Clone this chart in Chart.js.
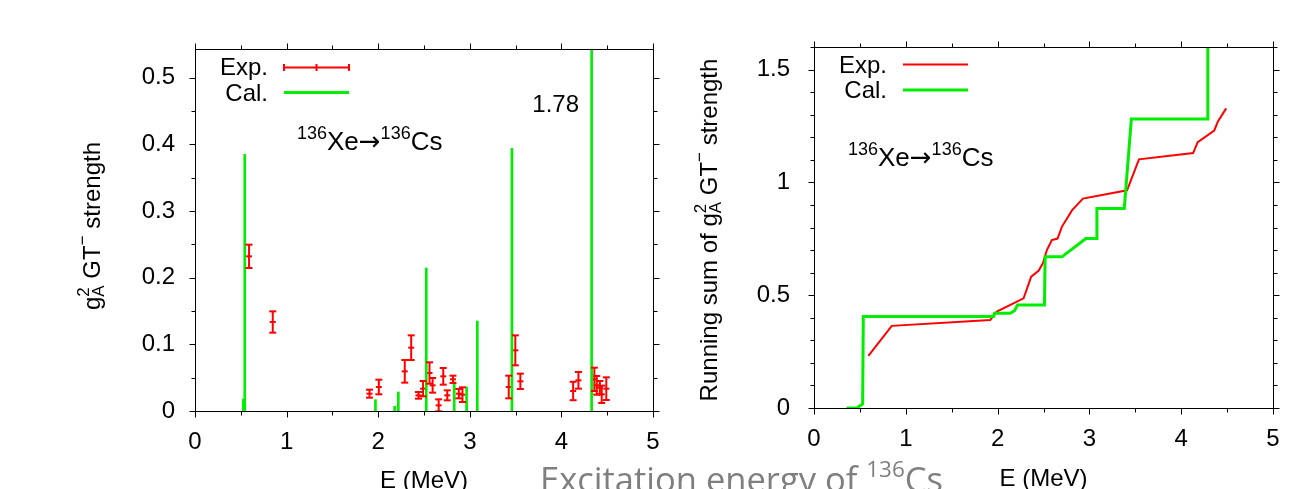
<!DOCTYPE html>
<html>
<head>
<meta charset="utf-8">
<script src="https://cdn.jsdelivr.net/npm/chart.js@4.4.1/dist/chart.umd.min.js"></script>
<style>
  html, body { margin: 0; padding: 0; background: #fff; }
  body { width: 1302px; height: 489px; position: relative; overflow: hidden; }
  canvas { position: absolute; top: 0; }
  #left { left: 0; }
  #right { left: 690px; }
  #cap { left: 0; pointer-events: none; }
</style>
</head>
<body>
<canvas id="left" width="690" height="489"></canvas>
<canvas id="right" width="612" height="489"></canvas>
<canvas id="cap" width="1302" height="489"></canvas>
<script>
const FONT = "'Liberation Sans', Arial, Helvetica, sans-serif";
const ARROW_FONT = "'DejaVu Sans', sans-serif";
const RED = '#ff0000';
const GREEN = '#00ee00';

// left panel: strength of each level (MeV, g_A^2 GT-)
const expE   = [0.590, 0.849, 1.905, 2.007, 2.29, 2.36, 2.44, 2.49, 2.56, 2.594, 2.66, 2.71, 2.754,
                2.816, 2.88, 2.92, 3.425, 3.497, 3.552, 4.128, 4.186, 4.36, 4.386, 4.42, 4.44, 4.49];
const expS   = [0.232, 0.1335, 0.026, 0.036, 0.0595, 0.095, 0.0235, 0.0335, 0.057, 0.0385, 0.0085, 0.052, 0.0235,
                0.0475, 0.026, 0.0245, 0.036, 0.091, 0.0445, 0.030, 0.046, 0.0475, 0.0385, 0.035, 0.025, 0.0335];
const expErr = [0.0175, 0.016, 0.006, 0.011, 0.017, 0.0185, 0.005, 0.0115, 0.016, 0.011, 0.009, 0.0125, 0.0075,
                0.0055, 0.007, 0.011, 0.017, 0.0225, 0.0115, 0.0138, 0.0125, 0.0175, 0.014, 0.01, 0.013, 0.017];
const calE   = [0.528, 0.543, 1.97, 2.18, 2.22, 2.525, 2.83, 2.965, 3.082, 3.46, 4.33];
const calS   = [0.018, 0.385, 0.017, 0.007, 0.0285, 0.2145, 0.044, 0.036, 0.135, 0.394, 1.78];

// right panel: running sums
const expRunE = [0.592, 0.847, 1.919, 1.992, 2.283, 2.366, 2.446, 2.493, 2.537, 2.591, 2.653,
                 2.70, 2.81, 2.93, 3.41, 3.54, 4.13, 4.18, 4.36, 4.40, 4.49];
const expRunS = [0.231, 0.364, 0.390, 0.427, 0.486, 0.582, 0.608, 0.641, 0.70, 0.744, 0.751,
                 0.803, 0.876, 0.928, 0.965, 1.102, 1.13, 1.178, 1.23, 1.27, 1.328];
const calRunE = [0.356, 0.465, 0.530, 0.537, 1.955, 1.966, 2.137, 2.184, 2.217, 2.51, 2.518,
                 2.70, 2.962, 3.082, 3.082, 3.38, 3.457, 4.283, 4.29];
const calRunS = [0, 0, 0.018, 0.405, 0.405, 0.42, 0.42, 0.431, 0.457, 0.457, 0.67,
                 0.67, 0.751, 0.751, 0.884, 0.884, 1.281, 1.281, 3.06];

// tick labels
const xTickVals = [0, 1, 2, 3, 4, 5];
const leftYTicks = [0, 0.1, 0.2, 0.3, 0.4, 0.5];
const rightYTicks = [0, 0.5, 1, 1.5];

const pts = (xs, ys) => xs.map((x, i) => ({ x: x, y: ys[i] }));

function line(ctx, x1, y1, x2, y2) {
  ctx.beginPath(); ctx.moveTo(x1, y1); ctx.lineTo(x2, y2); ctx.stroke();
}

// rich text: parts are {t, s, dy, f} or {stack: [sup, sub], s, up, down}
function partWidth(ctx, p) {
  ctx.font = p.s + 'px ' + (p.f || FONT);
  if (p.stack) return Math.max(ctx.measureText(p.stack[0]).width, ctx.measureText(p.stack[1]).width);
  return ctx.measureText(p.t).width;
}
function drawRich(ctx, parts, x, y, align) {
  const ws = parts.map(p => partWidth(ctx, p));
  const total = ws.reduce((a, b) => a + b, 0);
  let cx = align === 'center' ? x - total / 2 : (align === 'right' ? x - total : x);
  ctx.textAlign = 'left';
  ctx.textBaseline = 'alphabetic';
  parts.forEach((p, i) => {
    ctx.font = p.s + 'px ' + (p.f || FONT);
    if (p.stack) {
      ctx.fillText(p.stack[0], cx, y + p.up);
      ctx.fillText(p.stack[1], cx, y + p.down);
    } else {
      ctx.fillText(p.t, cx, y + (p.dy || 0));
    }
    cx += ws[i];
  });
}

const gtTitle = [
  { t: 'g', s: 24 },
  { stack: ['2', 'A'], s: 17, up: -11, down: 4 },
  { t: ' GT', s: 24 },
  { t: '\u2212', s: 17, dy: -12 },
  { t: ' strength', s: 24 }
];
const reaction = [
  { t: '136', s: 18, dy: -11 },
  { t: 'Xe', s: 26 },
  { t: '\u2192', s: 26, f: ARROW_FONT },
  { t: '136', s: 18, dy: -11 },
  { t: 'Cs', s: 26 }
];

const framePlugin = {
  id: 'frame',
  afterDatasetsDraw(chart, args, o) {
    const { ctx, chartArea: a, scales: { x, y } } = chart;
    ctx.save();
    ctx.strokeStyle = '#000';
    ctx.lineWidth = 1;
    const L = Math.round(a.left) + 0.5, R = Math.round(a.right) + 0.5;
    const T = Math.round(a.top) + 0.5, B = Math.round(a.bottom) + 0.5;
    ctx.strokeRect(L, T, R - L, B - T);
    for (let k = 0; k * o.xMinor <= x.max + 1e-9; k++) {
      const v = k * o.xMinor;
      const px = Math.round(x.getPixelForValue(v)) + 0.5;
      const len = Math.abs(v / o.xMajor - Math.round(v / o.xMajor)) < 1e-6 ? 6 : 4;
      line(ctx, px, B, px, B + len);
      line(ctx, px, T, px, T - len);
    }
    for (let k = 0; k * o.yMinor <= y.max + 1e-9; k++) {
      const v = k * o.yMinor;
      const py = Math.round(y.getPixelForValue(v)) + 0.5;
      const len = Math.abs(v / o.yMajor - Math.round(v / o.yMajor)) < 1e-6 ? 6 : 4;
      line(ctx, L, py, L - len, py);
      line(ctx, R, py, R + len, py);
    }
    ctx.restore();
  }
};

const errorPlugin = {
  id: 'errorBars',
  afterDatasetsDraw(chart) {
    const { ctx, chartArea: a, scales: { x, y } } = chart;
    ctx.save();
    ctx.beginPath();
    ctx.rect(a.left, a.top, a.right - a.left, a.bottom - a.top);
    ctx.clip();
    chart.data.datasets.forEach(ds => {
      if (!ds.errors) return;
      ctx.strokeStyle = ds.borderColor;
      ctx.lineWidth = 2;
      ds.data.forEach((p, i) => {
        const px = x.getPixelForValue(p.x);
        const top = y.getPixelForValue(p.y + ds.errors[i]);
        const bot = y.getPixelForValue(p.y - ds.errors[i]);
        line(ctx, px, top, px, bot);
        line(ctx, px - 3.5, top, px + 3.5, top);
        line(ctx, px - 3.5, bot, px + 3.5, bot);
      });
    });
    ctx.restore();
  }
};

const keyPlugin = {
  id: 'key',
  afterDraw(chart, args, o) {
    const ctx = chart.ctx;
    ctx.save();
    o.rows.forEach(r => {
      const ds = chart.data.datasets[r.ds];
      ctx.font = '24px ' + FONT;
      ctx.fillStyle = '#000';
      ctx.textAlign = 'right';
      ctx.textBaseline = 'alphabetic';
      ctx.fillText(ds.label, o.textX, r.base);
      ctx.strokeStyle = ds.borderColor;
      ctx.lineWidth = r.lw;
      line(ctx, o.x1, r.lineY, o.x2, r.lineY);
      if (r.caps) {
        ctx.lineWidth = 2;
        const mid = (o.x1 + o.x2) / 2;
        [o.x1, mid, o.x2].forEach(cx => line(ctx, cx, r.lineY - 3.5, cx, r.lineY + 3.5));
      }
    });
    ctx.restore();
  }
};

const notesPlugin = {
  id: 'notes',
  afterDraw(chart, args, o) {
    const ctx = chart.ctx;
    ctx.save();
    ctx.fillStyle = '#000';
    o.items.forEach(it => {
      ctx.save();
      ctx.translate(it.x, it.y);
      if (it.rotate) ctx.rotate(-Math.PI / 2);
      drawRich(ctx, it.parts, 0, 0, it.align);
      ctx.restore();
    });
    ctx.restore();
  }
};

function axes(yMax, yTicks, yWidth, xHeight, yPad) {
  const tickFont = { family: FONT, size: 24 };
  return {
    x: {
      type: 'linear', min: 0, max: 5, offset: false,
      afterBuildTicks: s => { s.ticks = xTickVals.map(v => ({ value: v })); },
      afterFit: s => { s.height = xHeight; },
      grid: { display: false, drawTicks: false, offset: false },
      border: { display: false },
      ticks: { color: '#000', font: tickFont, padding: 17, maxRotation: 0, autoSkip: false,
               callback: v => String(v) }
    },
    y: {
      type: 'linear', min: 0, max: yMax,
      afterBuildTicks: s => { s.ticks = yTicks.map(v => ({ value: v })); },
      afterFit: s => { s.width = yWidth; },
      grid: { display: false, drawTicks: false },
      border: { display: false },
      ticks: { color: '#000', font: tickFont, padding: yPad, autoSkip: false,
               callback: v => String(v) }
    }
  };
}

new Chart(document.getElementById('left'), {
  type: 'scatter',
  data: {
    datasets: [
      {
        type: 'bar', label: 'Cal.', data: pts(calE, calS),
        backgroundColor: GREEN, borderColor: GREEN, borderWidth: 0,
        barThickness: 2, order: 1
      },
      {
        type: 'scatter', label: 'Exp.', data: pts(expE, expS), errors: expErr,
        pointStyle: 'line', pointRadius: 3, borderWidth: 2,
        borderColor: RED, backgroundColor: RED, order: 2
      }
    ]
  },
  options: {
    responsive: false, animation: false, events: [],
    layout: { padding: { left: 0, right: 37, top: 49, bottom: 0 } },
    scales: axes(0.543, leftYTicks, 195, 78, 20),
    plugins: {
      legend: { display: false },
      tooltip: { enabled: false },
      frame: { xMinor: 0.5, xMajor: 1, yMinor: 0.05, yMajor: 0.1 },
      key: {
        textX: 268, x1: 284, x2: 349,
        rows: [
          { ds: 1, base: 75, lineY: 67.5, lw: 2, caps: true },
          { ds: 0, base: 100.5, lineY: 92.5, lw: 3 }
        ]
      },
      notes: {
        items: [
          { parts: reaction, x: 297, y: 150, align: 'left' },
          { parts: [{ t: '1.78', s: 24 }], x: 579, y: 112, align: 'right' },
          { parts: [{ t: 'E (MeV)', s: 24 }], x: 424, y: 488, align: 'center' },
          { parts: gtTitle, x: 100, y: 226, align: 'center', rotate: true }
        ]
      }
    }
  },
  plugins: [errorPlugin, framePlugin, keyPlugin, notesPlugin]
});

new Chart(document.getElementById('right'), {
  type: 'scatter',
  data: {
    datasets: [
      {
        label: 'Exp.', data: pts(expRunE, expRunS), showLine: true,
        borderColor: RED, borderWidth: 2, pointRadius: 0, tension: 0, order: 2
      },
      {
        label: 'Cal.', data: pts(calRunE, calRunS), showLine: true,
        borderColor: GREEN, borderWidth: 3, pointRadius: 0, tension: 0, order: 1
      }
    ]
  },
  options: {
    responsive: false, animation: false, events: [],
    layout: { padding: { left: 0, right: 29, top: 47, bottom: 0 } },
    scales: axes(1.6, rightYTicks, 124, 81, 24),
    plugins: {
      legend: { display: false },
      tooltip: { enabled: false },
      frame: { xMinor: 0.5, xMajor: 1, yMinor: 0.1, yMajor: 0.5 },
      key: {
        textX: 197, x1: 213, x2: 278,
        rows: [
          { ds: 0, base: 73, lineY: 64.5, lw: 2 },
          { ds: 1, base: 98, lineY: 90, lw: 3 }
        ]
      },
      notes: {
        items: [
          { parts: reaction, x: 158, y: 166, align: 'left' },
          { parts: [{ t: 'E (MeV)', s: 24 }], x: 353.5, y: 486, align: 'center' },
          { parts: [{ t: 'Running sum of ', s: 24 }].concat(gtTitle), x: 27, y: 230, align: 'center', rotate: true }
        ]
      }
    }
  },
  plugins: [framePlugin, keyPlugin, notesPlugin]
});

// slide caption under both panels
(function () {
  const ctx = document.getElementById('cap').getContext('2d');
  const CF = "'Open Sans', 'Noto Sans', sans-serif";
  const main = 'Excitation energy of ', sup = '136', tail = 'Cs';
  const widthAt = s => {
    ctx.font = s + 'px ' + CF;
    const w = ctx.measureText(main).width + ctx.measureText(tail).width;
    ctx.font = (s * 0.65) + 'px ' + CF;
    return w + ctx.measureText(sup).width;
  };
  const size = 36 * 403 / widthAt(36);
  ctx.fillStyle = '#7f7f7f';
  ctx.textBaseline = 'alphabetic';
  ctx.font = size + 'px ' + CF;
  const base = 466.5 + ctx.measureText('E').actualBoundingBoxAscent;
  let x = 540;
  ctx.fillText(main, x, base);
  x += ctx.measureText(main).width;
  ctx.font = (size * 0.65) + 'px ' + CF;
  const supBase = 460.5 + ctx.measureText(sup).actualBoundingBoxAscent;
  ctx.fillText(sup, x, supBase);
  x += ctx.measureText(sup).width;
  ctx.font = size + 'px ' + CF;
  ctx.fillText(tail, x, base);
})();
</script>
</body>
</html>
